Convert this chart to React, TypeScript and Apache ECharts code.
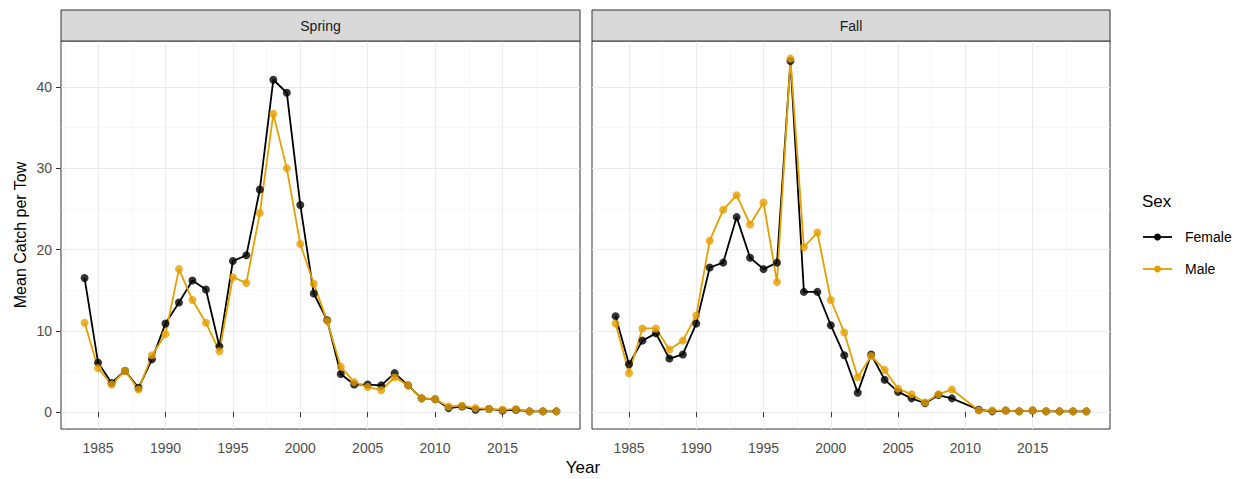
import React, { useEffect, useRef } from "react";
import * as echarts from "echarts";

const years = [
  1984, 1985, 1986, 1987, 1988, 1989, 1990, 1991, 1992, 1993, 1994, 1995,
  1996, 1997, 1998, 1999, 2000, 2001, 2002, 2003, 2004, 2005, 2006, 2007,
  2008, 2009, 2010, 2011, 2012, 2013, 2014, 2015, 2016, 2017, 2018, 2019,
];

const springFemale = [
  16.5, 6.1, 3.6, 5.1, 3.0, 6.5, 10.9, 13.5, 16.2, 15.1, 8.1, 18.6,
  19.3, 27.4, 40.9, 39.3, 25.5, 14.6, 11.3, 4.7, 3.4, 3.4, 3.3, 4.8,
  3.3, 1.7, 1.6, 0.5, 0.7, 0.3, 0.4, 0.2, 0.3, 0.1, 0.1, 0.1,
];
const springMale = [
  11.0, 5.4, 3.4, 5.1, 2.8, 7.0, 9.6, 17.6, 13.8, 11.0, 7.5, 16.6,
  15.9, 24.5, 36.7, 30.0, 20.7, 15.8, 11.2, 5.6, 3.7, 3.1, 2.7, 4.3,
  3.3, 1.7, 1.6, 0.7, 0.8, 0.5, 0.4, 0.3, 0.4, 0.1, 0.1, 0.1,
];
const fallFemale = [
  11.8, 5.9, 8.8, 9.7, 6.6, 7.1, 10.9, 17.8, 18.4, 24.0, 19.0, 17.6,
  18.4, 43.2, 14.8, 14.8, 10.7, 7.0, 2.4, 7.1, 4.0, 2.5, 1.7, 1.1,
  2.1, 1.7, null, 0.3, 0.1, 0.2, 0.1, 0.2, 0.1, 0.1, 0.1, 0.1,
];
const fallMale = [
  10.9, 4.8, 10.3, 10.3, 7.7, 8.8, 11.9, 21.1, 24.9, 26.7, 23.1, 25.8,
  16.0, 43.5, 20.3, 22.1, 13.8, 9.8, 4.3, 6.9, 5.2, 2.9, 2.2, 1.2,
  2.2, 2.8, null, 0.2, 0.2, 0.2, 0.1, 0.2, 0.1, 0.1, 0.1, 0.1,
];

const panelNames = ["Spring", "Fall"];
const sexNames = ["Female", "Male"];
const sexColors = ["#000000", "#E69F00"];

const xMajor = [1985, 1990, 1995, 2000, 2005, 2010, 2015];
const xMinor = [1982.5, 1987.5, 1992.5, 1997.5, 2002.5, 2007.5, 2012.5, 2017.5];
const yMajor = [0, 10, 20, 30, 40];
const yMinor = [5, 15, 25, 35, 45];

const FONT = "'Liberation Sans', Arial, Helvetica, sans-serif";

export default function App() {
  const ref = useRef<HTMLDivElement>(null);

  useEffect(() => {
    if (!ref.current) return;
    const chart = echarts.init(ref.current, undefined, { renderer: "svg" });

    const panelData = [
      [springFemale, springMale],
      [fallFemale, fallMale],
    ];
    const allVals: number[] = [];
    panelData.forEach((p) => p.forEach((s) => s.forEach((v) => { if (v != null) allVals.push(v as number); })));
    const dMin = Math.min(...allVals);
    const dMax = Math.max(...allVals);
    const yPad = (dMax - dMin) * 0.05;
    const yMin = dMin - yPad;
    const yMax = dMax + yPad;
    const xPad = (years[years.length - 1] - years[0]) * 0.05;
    const xMin = years[0] - xPad;
    const xMax = years[years.length - 1] + xPad;

    const grids = [
      { left: 61, top: 41, width: 519, height: 388 },
      { left: 592, top: 41, width: 518, height: 388 },
    ];

    const fmt = (v: number) => String(v);

    const xAxis: any[] = [];
    const yAxis: any[] = [];
    grids.forEach((_, gi) => {
      xAxis.push({
        type: "value",
        gridIndex: gi,
        min: xMin,
        max: xMax,
        axisLine: { show: false },
        axisTick: { show: true, length: 5, lineStyle: { color: "#333333", width: 1 }, customValues: xMajor },
        axisLabel: { customValues: xMajor, formatter: fmt, color: "#4d4d4d", fontSize: 14, fontFamily: FONT, margin: 12 },
        splitLine: { show: true, lineStyle: { color: "#ebebeb", width: 1 } },
      });
      yAxis.push({
        type: "value",
        gridIndex: gi,
        min: yMin,
        max: yMax,
        axisLine: { show: false },
        axisTick: { show: gi === 0, length: 5, lineStyle: { color: "#333333", width: 1 }, customValues: yMajor },
        axisLabel: { show: gi === 0, customValues: yMajor, formatter: fmt, color: "#4d4d4d", fontSize: 14, fontFamily: FONT, margin: 9 },
        splitLine: { show: true, lineStyle: { color: "#ebebeb", width: 1 } },
      });
    });
    grids.forEach((_, gi) => {
      xAxis.push({
        type: "value",
        gridIndex: gi,
        min: xMin,
        max: xMax,
        axisLine: { show: false },
        axisTick: { show: false, customValues: xMinor },
        axisLabel: { show: false, customValues: xMinor },
        splitLine: { show: true, lineStyle: { color: "#f3f3f3", width: 0.6 } },
      });
      yAxis.push({
        type: "value",
        gridIndex: gi,
        min: yMin,
        max: yMax,
        axisLine: { show: false },
        axisTick: { show: false, customValues: yMinor },
        axisLabel: { show: false, customValues: yMinor },
        splitLine: { show: true, lineStyle: { color: "#f3f3f3", width: 0.6 } },
      });
    });

    const series: any[] = [];
    panelData.forEach((p, pi) => {
      p.forEach((vals, si) => {
        series.push({
          type: "line",
          name: sexNames[si],
          xAxisIndex: pi,
          yAxisIndex: pi,
          data: years.map((yr, i) => [yr, vals[i]]),
          showSymbol: false,
          connectNulls: true,
          lineStyle: { color: sexColors[si], width: 1.8 },
          itemStyle: { color: sexColors[si] },
          z: 3,
        });
      });
    });
    panelData.forEach((p, pi) => {
      p.forEach((vals, si) => {
        series.push({
          type: "scatter",
          name: sexNames[si],
          xAxisIndex: pi,
          yAxisIndex: pi,
          data: years.map((yr, i) => [yr, vals[i]]).filter((d) => d[1] != null),
          symbol: "circle",
          symbolSize: 8,
          itemStyle: { color: sexColors[si] },
          z: 4,
        });
      });
    });

    const graphic: any[] = [];
    grids.forEach((g, gi) => {
      graphic.push({
        type: "rect",
        shape: { x: g.left, y: 10, width: g.width, height: 31 },
        style: { fill: "#d9d9d9", stroke: "#333333", lineWidth: 1 },
        z: 10,
      });
      graphic.push({
        type: "text",
        x: g.left + g.width / 2,
        y: 26,
        style: {
          text: panelNames[gi],
          fill: "#1a1a1a",
          font: `14px ${FONT}`,
          align: "center",
          verticalAlign: "middle",
        },
        z: 11,
      });
    });
    graphic.push({
      type: "text",
      x: 20,
      y: 235,
      rotation: Math.PI / 2,
      style: {
        text: "Mean Catch per Tow",
        fill: "#000000",
        font: `16px ${FONT}`,
        align: "center",
        verticalAlign: "middle",
      },
    });
    graphic.push({
      type: "text",
      x: 583,
      y: 467,
      style: {
        text: "Year",
        fill: "#000000",
        font: `17px ${FONT}`,
        align: "center",
        verticalAlign: "middle",
      },
    });
    graphic.push({
      type: "text",
      x: 1142,
      y: 201,
      style: {
        text: "Sex",
        fill: "#000000",
        font: `17px ${FONT}`,
        align: "left",
        verticalAlign: "middle",
      },
    });
    const legendY = [237, 269];
    sexNames.forEach((nm, si) => {
      graphic.push({
        type: "line",
        shape: { x1: 1143, y1: legendY[si], x2: 1172, y2: legendY[si] },
        style: { stroke: sexColors[si], lineWidth: 1.8 },
      });
      graphic.push({
        type: "circle",
        shape: { cx: 1157.5, cy: legendY[si], r: 3.5 },
        style: { fill: sexColors[si] },
      });
      graphic.push({
        type: "text",
        x: 1185,
        y: legendY[si],
        style: {
          text: nm,
          fill: "#000000",
          font: `14px ${FONT}`,
          align: "left",
          verticalAlign: "middle",
        },
      });
    });

    chart.setOption({
      animation: false,
      backgroundColor: "#ffffff",
      textStyle: { fontFamily: FONT },
      grid: grids.map((g) => ({
        ...g,
        show: true,
        borderColor: "#333333",
        borderWidth: 1,
        backgroundColor: "#ffffff",
        containLabel: false,
      })),
      xAxis,
      yAxis,
      series,
      graphic,
    });

    return () => {
      chart.dispose();
    };
  }, []);

  return (
    <div
      ref={ref}
      style={{ position: "fixed", left: 0, top: 0, width: 1246, height: 479 }}
    />
  );
}
